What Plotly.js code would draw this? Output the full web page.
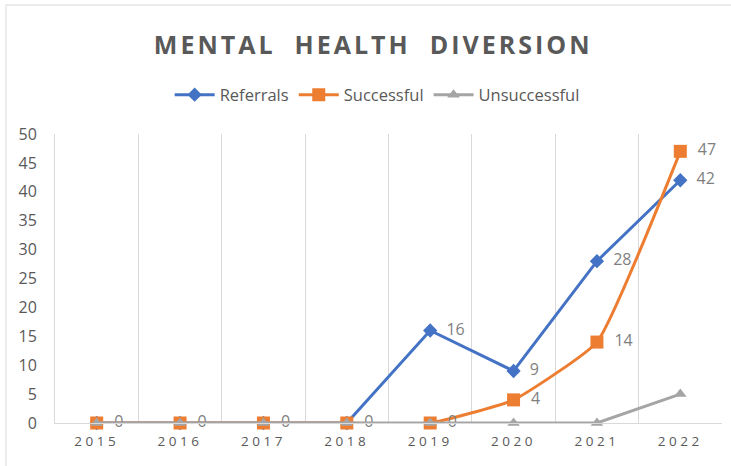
<!DOCTYPE html>
<html>
<head>
<meta charset="utf-8">
<script src="https://cdn.plot.ly/plotly-3.0.1.min.js"></script>
<style>
body { margin: 0; background: #fff; }
#wrap { position: relative; width: 731px; height: 466px; }
#chart { width: 731px; height: 466px; }
#frameL { position: absolute; left: 5px; top: 5px; width: 2px; height: 461px; background: #ececec; pointer-events: none; }
#frameT { position: absolute; left: 5px; top: 4px; width: 726px; height: 2px; background: #ececec; pointer-events: none; }
.gtitle { letter-spacing: 3px; }
.xtick text { letter-spacing: 3.5px; }
</style>
</head>
<body>
<div id="wrap">
<div id="chart"></div>
<div id="frameL"></div>
<div id="frameT"></div>
</div>
<script>
const years = ['2015', '2016', '2017', '2018', '2019', '2020', '2021', '2022'];
const referrals = [0, 0, 0, 0, 16, 9, 28, 42];
const successful = [0, 0, 0, 0, 0, 4, 14, 47];
const unsuccessful = [0, 0, 0, 0, 0, 0, 0, 5];
// Referrals' zero labels sit under the Successful zero labels in the reference
const referralLabels = ['', '', '', '', '16', '9', '28', '42'];
const successfulLabels = ['0', '0', '0', '0', '0', '4', '14', '47'];

const labelFont = { family: 'Open Sans, sans-serif', size: 16, color: '#7f7f7f' };
const pad = '\u00a0\u00a0';

const traces = [
  {
    x: years, y: referrals, name: 'Referrals', type: 'scatter', mode: 'lines+markers+text',
    line: { color: '#4472C4', width: 3 },
    marker: { symbol: 'diamond', size: 11, color: '#4472C4' },
    text: referralLabels.map(v => v ? pad + v : ''), textposition: 'middle right', textfont: labelFont,
    cliponaxis: false
  },
  {
    x: years, y: successful, name: 'Successful', type: 'scatter', mode: 'lines+markers+text',
    line: { color: '#ED7D31', width: 3, shape: 'spline', smoothing: 0.4 },
    marker: { symbol: 'square', size: 13, color: '#ED7D31' },
    text: successfulLabels.map(v => pad + v), textposition: 'middle right', textfont: labelFont,
    cliponaxis: false
  },
  {
    x: years, y: unsuccessful, name: 'Unsuccessful', type: 'scatter', mode: 'lines+markers',
    line: { color: '#A5A5A5', width: 3 },
    marker: { symbol: 'triangle-up', size: 11, color: '#A5A5A5' },
    cliponaxis: false
  }
];

const layout = {
  width: 731, height: 466,
  margin: { l: 55, r: 9, t: 134, b: 43 },
  paper_bgcolor: '#ffffff', plot_bgcolor: '#ffffff',
  font: { family: 'Open Sans, sans-serif', color: '#595959' },
  title: {
    text: '<b>MENTAL  HEALTH  DIVERSION</b>',
    font: { family: 'Open Sans, sans-serif', size: 25, color: '#595959' },
    x: 0.477, xanchor: 'center', y: 0.903, yanchor: 'middle', xref: 'paper', yref: 'container'
  },
  showlegend: true,
  legend: {
    orientation: 'h', x: 0.483, xanchor: 'center', y: 1.135, yanchor: 'middle',
    font: { family: 'Open Sans, sans-serif', size: 16.5, color: '#595959' },
    itemwidth: 40, traceorder: 'normal'
  },
  xaxis: {
    type: 'category', range: [-0.5, 7.5],
    tickson: 'boundaries', showgrid: true, gridcolor: '#d9d9d9', gridwidth: 1,
    ticks: '', showline: true, linecolor: '#d9d9d9', linewidth: 1, ticklabelstandoff: 6,
    tickfont: { family: 'Open Sans, sans-serif', size: 13.5, color: '#595959' },
    zeroline: false, mirror: false
  },
  yaxis: {
    range: [0, 50], dtick: 5, tick0: 0,
    showgrid: false, zeroline: false, showline: true, linecolor: '#d9d9d9', linewidth: 1,
    ticks: '', ticklabelstandoff: 14,
    tickfont: { family: 'Open Sans, sans-serif', size: 16, color: '#595959' }
  }
};

Plotly.newPlot('chart', traces, layout, { displayModeBar: false, staticPlot: true });
</script>
</body>
</html>
